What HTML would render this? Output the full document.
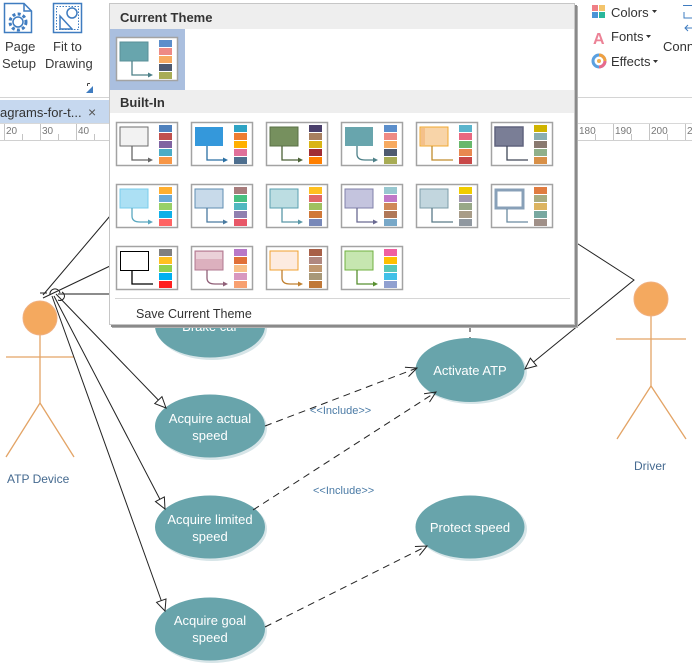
<!DOCTYPE html>
<html><head><meta charset="utf-8">
<style>
html,body{margin:0;padding:0;background:#fff;}
svg{display:block;}
text{font-family:"Liberation Sans",sans-serif;}
</style></head>
<body>
<svg width="692" height="666" viewBox="0 0 692 666" xmlns="http://www.w3.org/2000/svg">
<defs>
<marker id="hol" markerUnits="userSpaceOnUse" markerWidth="14" markerHeight="14" refX="12" refY="6" orient="auto">
<path d="M1,1 L12,6 L1,11 z" fill="#fff" stroke="#222" stroke-width="1"/>
</marker>
<marker id="opn" markerUnits="userSpaceOnUse" markerWidth="14" markerHeight="14" refX="12" refY="6" orient="auto">
<path d="M1,1 L12,6 L1,11" fill="none" stroke="#222" stroke-width="1"/>
</marker>
</defs>

<!-- ===== Toolbar left ===== -->
<rect x="0" y="0" width="692" height="97" fill="#fff"/>
<g fill="none" stroke="#3f7cc0" stroke-width="1.5">
<path d="M4.5 3.5H24L31.5 11V32.5H4.5Z"/><path d="M24 3.5V11H31.5"/>
<circle cx="18" cy="22" r="5"/><circle cx="18" cy="22" r="8" stroke-dasharray="3,2.3" stroke-width="3"/>
<rect x="53.5" y="3.5" width="28" height="29"/>
<rect x="56.5" y="6.5" width="22" height="23" stroke-dasharray="1.5,1.5" stroke-width="1"/>
<circle cx="72" cy="13" r="5"/><path d="M60 16V29H72Z"/>
</g>
<text x="5" y="51" font-size="13" fill="#3a3a3a">Page</text>
<text x="2" y="68" font-size="13" fill="#3a3a3a">Setup</text>
<text x="53" y="51" font-size="13" fill="#3a3a3a">Fit to</text>
<text x="45" y="68" font-size="13" fill="#3a3a3a">Drawing</text>
<path d="M87.5 83.5H90M87.5 83.5V86" stroke="#444" fill="none"/><path d="M93 86V93H86Z" fill="#3f7cc0"/>
<line x1="0" y1="97.5" x2="692" y2="97.5" stroke="#d4d4d4"/>

<!-- tab bar -->
<rect x="0" y="100" width="110" height="24" fill="#c6d8ef"/>
<text x="0" y="117" font-size="13" fill="#333">agrams-for-t...</text>
<text x="88" y="117" font-size="14" fill="#555">×</text>

<!-- ruler -->
<line x1="0" y1="123.5" x2="692" y2="123.5" stroke="#d8d8d8"/>
<line x1="0" y1="140.5" x2="692" y2="140.5" stroke="#d0d0d0"/>
<g stroke="#c4c4c4">
<line x1="4.5" y1="124" x2="4.5" y2="140"/><line x1="22.5" y1="134" x2="22.5" y2="140"/>
<line x1="40.5" y1="124" x2="40.5" y2="140"/><line x1="58.5" y1="134" x2="58.5" y2="140"/>
<line x1="76.5" y1="124" x2="76.5" y2="140"/><line x1="94.5" y1="134" x2="94.5" y2="140"/>
<line x1="577.5" y1="124" x2="577.5" y2="140"/><line x1="595.5" y1="134" x2="595.5" y2="140"/>
<line x1="613.5" y1="124" x2="613.5" y2="140"/><line x1="631.5" y1="134" x2="631.5" y2="140"/>
<line x1="649.5" y1="124" x2="649.5" y2="140"/><line x1="667.5" y1="134" x2="667.5" y2="140"/>
<line x1="685.5" y1="124" x2="685.5" y2="140"/>
</g>
<g font-size="10" fill="#777">
<text x="6" y="134">20</text><text x="42" y="134">30</text><text x="78" y="134">40</text>
<text x="579" y="134">180</text><text x="615" y="134">190</text><text x="651" y="134">200</text><text x="687" y="134">210</text>
</g>

<!-- ===== Toolbar right ===== -->
<rect x="592" y="5" width="6" height="6" fill="#ef7f86"/><rect x="599" y="5" width="6" height="6" fill="#f3c46c"/>
<rect x="592" y="12" width="6" height="6" fill="#4a94d6"/><rect x="599" y="12" width="6" height="6" fill="#2ab79b"/>
<text x="611" y="17" font-size="13" fill="#333">Colors</text>
<path d="M652 10H657L654.5 13Z" fill="#333"/>
<text x="593" y="44" font-size="16" font-weight="bold" fill="#ec8296">A</text>
<text x="611" y="41" font-size="13" fill="#333">Fonts</text>
<path d="M646 35H651L648.5 38Z" fill="#333"/>
<circle cx="599" cy="61" r="6" fill="none" stroke="#5aa0e0" stroke-width="3"/>
<path d="M599 55A6 6 0 0 1 605 61" fill="none" stroke="#f0a040" stroke-width="3"/>
<path d="M605 61A6 6 0 0 1 599 67" fill="none" stroke="#e86a8a" stroke-width="3"/>
<circle cx="599" cy="61" r="2" fill="#f0b050"/>
<text x="611" y="66" font-size="13" fill="#333">Effects</text>
<path d="M653 60H658L655.5 63Z" fill="#333"/>
<path d="M683 5.5H692M684 12V18H692" stroke="#3f7cc0" fill="none"/>
<path d="M685 28H692M688 25L685 28L688 31" stroke="#3f7cc0" fill="none"/>
<text x="663" y="51" font-size="13" fill="#333">Conn</text>

<!-- ===== Diagram ===== -->
<!-- actors -->
<g stroke="#e3a466" stroke-width="1.3" fill="none">
<line x1="40" y1="335" x2="40" y2="403"/><line x1="6" y1="357" x2="74" y2="357"/>
<path d="M6 457L40 403L74 457"/>
<line x1="651" y1="316" x2="651" y2="386"/><line x1="616" y1="339" x2="686" y2="339"/>
<path d="M617 439L651 386L686 439"/>
</g>
<circle cx="40" cy="318" r="17" fill="#f4a95f" stroke="#f0b080"/>
<circle cx="651" cy="299" r="17" fill="#f4a95f" stroke="#f0b080"/>
<text x="7" y="483" font-size="12" fill="#456a90">ATP Device</text>
<text x="634" y="470" font-size="12" fill="#456a90">Driver</text>

<!-- ellipses -->
<g fill="#d7e5e8">
<ellipse cx="212" cy="328" rx="55" ry="32"/>
<ellipse cx="212" cy="428" rx="55" ry="32"/>
<ellipse cx="212" cy="529" rx="55" ry="32"/>
<ellipse cx="212" cy="631" rx="55" ry="32"/>
<ellipse cx="472" cy="372" rx="55" ry="32"/>
<ellipse cx="472" cy="529" rx="55" ry="32"/>
</g>
<g fill="#68a4ab">
<ellipse cx="210" cy="326" rx="55" ry="31.5"/>
<ellipse cx="210" cy="426" rx="55" ry="31.5"/>
<ellipse cx="210" cy="527" rx="55" ry="31.5"/>
<ellipse cx="210" cy="629" rx="55" ry="31.5"/>
<ellipse cx="470" cy="370" rx="54.5" ry="32"/>
<ellipse cx="470" cy="527" rx="54.5" ry="31.5"/>
</g>
<g font-size="13" fill="#fff" text-anchor="middle">
<text x="210" y="331">Brake car</text>
<text x="210" y="423">Acquire actual</text><text x="210" y="440">speed</text>
<text x="210" y="524">Acquire limited</text><text x="210" y="541">speed</text>
<text x="210" y="625">Acquire goal</text><text x="210" y="642">speed</text>
<text x="470" y="375">Activate ATP</text>
<text x="470" y="532">Protect speed</text>
</g>

<!-- connectors -->
<g stroke="#222" stroke-width="1" fill="none">
<line x1="40" y1="293" x2="47" y2="293"/>
<line x1="43" y1="295" x2="110" y2="216"/>
<line x1="43" y1="298" x2="110" y2="266"/>
<line x1="58" y1="294" x2="110" y2="294" stroke="#666" stroke-width="1.6"/>
<path d="M50 295A5 5 0 0 1 60 293"/>
<path d="M58 300A4 4 0 0 0 62 292"/>
<line x1="56" y1="294" x2="166" y2="408" marker-end="url(#hol)"/>
<line x1="54" y1="296" x2="165" y2="509" marker-end="url(#hol)"/>
<line x1="52" y1="296" x2="165" y2="611" marker-end="url(#hol)"/>
<polyline points="575,242 634,280 525,369" marker-end="url(#hol)"/>
<g stroke-dasharray="7,5">
<line x1="470" y1="325" x2="470" y2="338"/>
<line x1="265" y1="426" x2="417" y2="368" marker-end="url(#opn)"/>
<line x1="253" y1="510" x2="436" y2="392" marker-end="url(#opn)"/>
<line x1="265" y1="627" x2="427" y2="546" marker-end="url(#opn)"/>
</g>
</g>
<g font-size="11" fill="#4a7aa5">
<text x="310" y="414">&lt;&lt;Include&gt;&gt;</text>
<text x="313" y="494">&lt;&lt;Include&gt;&gt;</text>
</g>

<!-- ===== Theme popup ===== -->
<rect x="112" y="6" width="466" height="322" fill="#b0b0b0"/>
<rect x="111" y="5" width="466" height="322" fill="#8a8a8a"/>
<rect x="109.5" y="3.5" width="465" height="321" fill="#fff" stroke="#c6c6c6"/>
<rect x="110" y="4" width="464" height="25" fill="#eeeeee"/>
<text x="120" y="22" font-size="13" font-weight="bold" fill="#333">Current Theme</text>
<rect x="110" y="29" width="75" height="61" fill="#aabfdf"/>
<rect x="110" y="90" width="464" height="23" fill="#eeeeee"/>
<text x="120" y="107" font-size="13" font-weight="bold" fill="#333">Built-In</text>
<line x1="115" y1="298.5" x2="570" y2="298.5" stroke="#d6d6d6"/>
<text x="136" y="318" font-size="12.5" fill="#333">Save Current Theme</text>

<!-- current -->
<g transform="translate(116,37)">
<rect x="0.5" y="0.5" width="61" height="43" fill="#fff" stroke="#a3a3a3" stroke-width="1.5"/>
<rect x="4" y="5" width="28" height="19" fill="#68a5ad" stroke="#5a9098"/>
<path d="M16 24V38H33" stroke="#4d8088" fill="none" stroke-width="1.3"/><path d="M32 35.5L37 38L32 40.5z" fill="#4d8088"/>
<rect x="43" y="3" width="13" height="7" fill="#5b8ecb"/><rect x="43" y="11" width="13" height="7" fill="#ee8a84"/><rect x="43" y="19" width="13" height="7" fill="#f7aa60"/><rect x="43" y="27" width="13" height="7" fill="#4e5a70"/><rect x="43" y="35" width="13" height="7" fill="#a8ac55"/>
</g>

<!-- row 1 -->
<g transform="translate(116,122)">
<rect x="0.5" y="0.5" width="61" height="43" fill="#fff" stroke="#a3a3a3" stroke-width="1.5"/>
<rect x="4" y="5" width="28" height="19" fill="#f2f2f2" stroke="#6e6e6e"/>
<path d="M16 24V38H33" stroke="#666" fill="none" stroke-width="1.3"/><path d="M32 35.5L37 38L32 40.5z" fill="#666"/>
<rect x="43" y="3" width="13" height="7" fill="#4f81bd"/><rect x="43" y="11" width="13" height="7" fill="#c0504d"/><rect x="43" y="19" width="13" height="7" fill="#8064a2"/><rect x="43" y="27" width="13" height="7" fill="#4bacc6"/><rect x="43" y="35" width="13" height="7" fill="#f79646"/>
</g>
<g transform="translate(191,122)">
<rect x="0.5" y="0.5" width="61" height="43" fill="#fff" stroke="#a3a3a3" stroke-width="1.5"/>
<rect x="4" y="5" width="28" height="19" fill="#3498db"/>
<path d="M16 24V38H33" stroke="#2a6fa3" fill="none" stroke-width="1.3"/><path d="M32 35.5L37 38L32 40.5z" fill="#2a6fa3"/>
<rect x="43" y="3" width="13" height="7" fill="#2ea3c4"/><rect x="43" y="11" width="13" height="7" fill="#ee7d31"/><rect x="43" y="19" width="13" height="7" fill="#ffb000"/><rect x="43" y="27" width="13" height="7" fill="#e0709a"/><rect x="43" y="35" width="13" height="7" fill="#4e6f8f"/>
</g>
<g transform="translate(266,122)">
<rect x="0.5" y="0.5" width="61" height="43" fill="#fff" stroke="#a3a3a3" stroke-width="1.5"/>
<rect x="4" y="5" width="28" height="19" fill="#76905e" stroke="#5a7045"/>
<path d="M16 24V38H33" stroke="#4c6237" fill="none" stroke-width="1.3"/><path d="M32 35.5L37 38L32 40.5z" fill="#4c6237"/>
<rect x="43" y="3" width="13" height="7" fill="#4a3f6b"/><rect x="43" y="11" width="13" height="7" fill="#a88060"/><rect x="43" y="19" width="13" height="7" fill="#d9b515"/><rect x="43" y="27" width="13" height="7" fill="#a02c35"/><rect x="43" y="35" width="13" height="7" fill="#ff7f00"/>
</g>
<g transform="translate(341,122)">
<rect x="0.5" y="0.5" width="61" height="43" fill="#fff" stroke="#a3a3a3" stroke-width="1.5"/>
<rect x="4" y="5" width="28" height="19" fill="#68a5ad"/>
<path d="M16 24V32Q16 38 24 38H33" stroke="#4d8088" fill="none" stroke-width="1.3"/><path d="M32 35.5L37 38L32 40.5z" fill="#4d8088"/>
<rect x="43" y="3" width="13" height="7" fill="#5b8ecb"/><rect x="43" y="11" width="13" height="7" fill="#ee8a84"/><rect x="43" y="19" width="13" height="7" fill="#f7aa60"/><rect x="43" y="27" width="13" height="7" fill="#4e5a70"/><rect x="43" y="35" width="13" height="7" fill="#a8ac55"/>
</g>
<g transform="translate(416,122)">
<rect x="0.5" y="0.5" width="61" height="43" fill="#fff" stroke="#a3a3a3" stroke-width="1.5"/>
<rect x="4" y="5" width="28" height="19" fill="#f8d4a8" stroke="#f0a830"/>
<rect x="5" y="6" width="4" height="17" fill="#f4c08a"/>
<path d="M16 24V38H37" stroke="#c08c2c" fill="none" stroke-width="1.3"/>
<rect x="43" y="3" width="13" height="7" fill="#5ab4cc"/><rect x="43" y="11" width="13" height="7" fill="#e86880"/><rect x="43" y="19" width="13" height="7" fill="#68b86c"/><rect x="43" y="27" width="13" height="7" fill="#e88850"/><rect x="43" y="35" width="13" height="7" fill="#c84848"/>
</g>
<g transform="translate(491,122)">
<rect x="0.5" y="0.5" width="61" height="43" fill="#fff" stroke="#a3a3a3" stroke-width="1.5"/>
<rect x="4" y="5" width="28" height="19" fill="#7a7e96" stroke="#60647e" stroke-width="1.5"/>
<path d="M16 24V38H37" stroke="#404858" fill="none" stroke-width="1.3"/>
<rect x="43" y="3" width="13" height="7" fill="#d0b400"/><rect x="43" y="11" width="13" height="7" fill="#8aaeb0"/><rect x="43" y="19" width="13" height="7" fill="#8a7a70"/><rect x="43" y="27" width="13" height="7" fill="#90b08a"/><rect x="43" y="35" width="13" height="7" fill="#d89048"/>
</g>

<!-- row 2 -->
<g transform="translate(116,184)">
<rect x="0.5" y="0.5" width="61" height="43" fill="#fff" stroke="#a3a3a3" stroke-width="1.5"/>
<rect x="4" y="5" width="28" height="19" fill="#ace0f4" stroke="#78cdeb"/>
<path d="M16 24V32Q16 38 24 38H33" stroke="#5aa8c0" fill="none" stroke-width="1.3"/><path d="M32 35.5L37 38L32 40.5z" fill="#5aa8c0"/>
<rect x="43" y="3" width="13" height="7" fill="#ffaf30"/><rect x="43" y="11" width="13" height="7" fill="#6aaad8"/><rect x="43" y="19" width="13" height="7" fill="#98d068"/><rect x="43" y="27" width="13" height="7" fill="#10b0e8"/><rect x="43" y="35" width="13" height="7" fill="#ff6464"/>
</g>
<g transform="translate(191,184)">
<rect x="0.5" y="0.5" width="61" height="43" fill="#fff" stroke="#a3a3a3" stroke-width="1.5"/>
<rect x="4" y="5" width="28" height="19" fill="#c8daea" stroke="#5f8db2"/>
<path d="M16 24V38H33" stroke="#4a7aa0" fill="none" stroke-width="1.3"/><path d="M32 35.5L37 38L32 40.5z" fill="#4a7aa0"/>
<rect x="43" y="3" width="13" height="7" fill="#a87c7c"/><rect x="43" y="11" width="13" height="7" fill="#48c080"/><rect x="43" y="19" width="13" height="7" fill="#50b8c0"/><rect x="43" y="27" width="13" height="7" fill="#9080b0"/><rect x="43" y="35" width="13" height="7" fill="#e85868"/>
</g>
<g transform="translate(266,184)">
<rect x="0.5" y="0.5" width="61" height="43" fill="#fff" stroke="#a3a3a3" stroke-width="1.5"/>
<rect x="4" y="5" width="28" height="19" fill="#bcdde2" stroke="#5aa0b0"/>
<path d="M16 24V38H33" stroke="#5a98a8" fill="none" stroke-width="1.3"/><path d="M32 35.5L37 38L32 40.5z" fill="#5a98a8"/>
<rect x="43" y="3" width="13" height="7" fill="#ffc020"/><rect x="43" y="11" width="13" height="7" fill="#e06868"/><rect x="43" y="19" width="13" height="7" fill="#a0c060"/><rect x="43" y="27" width="13" height="7" fill="#d07838"/><rect x="43" y="35" width="13" height="7" fill="#7888b8"/>
</g>
<g transform="translate(341,184)">
<rect x="0.5" y="0.5" width="61" height="43" fill="#fff" stroke="#a3a3a3" stroke-width="1.5"/>
<rect x="4" y="5" width="28" height="19" fill="#c4c4de" stroke="#8080aa"/>
<path d="M16 24V38H33" stroke="#6a6a92" fill="none" stroke-width="1.3"/><path d="M32 35.5L37 38L32 40.5z" fill="#6a6a92"/>
<rect x="43" y="3" width="13" height="7" fill="#98c8d0"/><rect x="43" y="11" width="13" height="7" fill="#c078c8"/><rect x="43" y="19" width="13" height="7" fill="#d08858"/><rect x="43" y="27" width="13" height="7" fill="#b07858"/><rect x="43" y="35" width="13" height="7" fill="#78a8c8"/>
</g>
<g transform="translate(416,184)">
<rect x="0.5" y="0.5" width="61" height="43" fill="#fff" stroke="#a3a3a3" stroke-width="1.5"/>
<rect x="4" y="5" width="28" height="19" fill="#c2d6de" stroke="#7c9ca8"/>
<path d="M16 24V38H37" stroke="#5a7a88" fill="none" stroke-width="1.3"/>
<rect x="43" y="3" width="13" height="7" fill="#f0cc00"/><rect x="43" y="11" width="13" height="7" fill="#a098b0"/><rect x="43" y="19" width="13" height="7" fill="#98a888"/><rect x="43" y="27" width="13" height="7" fill="#a89c88"/><rect x="43" y="35" width="13" height="7" fill="#9098a0"/>
</g>
<g transform="translate(491,184)">
<rect x="0.5" y="0.5" width="61" height="43" fill="#fff" stroke="#a3a3a3" stroke-width="1.5"/>
<rect x="5" y="6" width="27" height="18" fill="#fff" stroke="#88a0b8" stroke-width="3"/>
<path d="M16 25V38H37" stroke="#6a8aa0" fill="none" stroke-width="1.3"/>
<rect x="43" y="3" width="13" height="7" fill="#e07c40"/><rect x="43" y="11" width="13" height="7" fill="#a8ac80"/><rect x="43" y="19" width="13" height="7" fill="#dcb460"/><rect x="43" y="27" width="13" height="7" fill="#78a8a0"/><rect x="43" y="35" width="13" height="7" fill="#a09088"/>
</g>

<!-- row 3 -->
<g transform="translate(116,246)">
<rect x="0.5" y="0.5" width="61" height="43" fill="#fff" stroke="#a3a3a3" stroke-width="1.5"/>
<rect x="4.5" y="5.5" width="28" height="19" fill="#fff" stroke="#000"/>
<path d="M16 24V38H37" stroke="#000" fill="none" stroke-width="1.3"/>
<rect x="43" y="3" width="13" height="7" fill="#808080"/><rect x="43" y="11" width="13" height="7" fill="#ffc020"/><rect x="43" y="19" width="13" height="7" fill="#90d050"/><rect x="43" y="27" width="13" height="7" fill="#00b0f0"/><rect x="43" y="35" width="13" height="7" fill="#ff2020"/>
</g>
<g transform="translate(191,246)">
<rect x="0.5" y="0.5" width="61" height="43" fill="#fff" stroke="#a3a3a3" stroke-width="1.5"/>
<rect x="4" y="5" width="28" height="19" fill="#dcb0be" stroke="#b07890"/>
<rect x="5" y="6" width="26" height="7" fill="#ead0d8"/>
<path d="M16 24V32Q16 38 24 38H33" stroke="#906078" fill="none" stroke-width="1.3"/><path d="M32 35.5L37 38L32 40.5z" fill="#906078"/>
<rect x="43" y="3" width="13" height="7" fill="#b878c8"/><rect x="43" y="11" width="13" height="7" fill="#e07038"/><rect x="43" y="19" width="13" height="7" fill="#f8c088"/><rect x="43" y="27" width="13" height="7" fill="#d898c0"/><rect x="43" y="35" width="13" height="7" fill="#f8a070"/>
</g>
<g transform="translate(266,246)">
<rect x="0.5" y="0.5" width="61" height="43" fill="#fff" stroke="#a3a3a3" stroke-width="1.5"/>
<rect x="4" y="5" width="28" height="19" fill="#fdebe0" stroke="#f0a030"/>
<path d="M16 24V32Q16 38 24 38H33" stroke="#c08030" fill="none" stroke-width="1.3"/><path d="M32 35.5L37 38L32 40.5z" fill="#c08030"/>
<rect x="43" y="3" width="13" height="7" fill="#a86048"/><rect x="43" y="11" width="13" height="7" fill="#b08880"/><rect x="43" y="19" width="13" height="7" fill="#c09870"/><rect x="43" y="27" width="13" height="7" fill="#a89878"/><rect x="43" y="35" width="13" height="7" fill="#c07838"/>
</g>
<g transform="translate(341,246)">
<rect x="0.5" y="0.5" width="61" height="43" fill="#fff" stroke="#a3a3a3" stroke-width="1.5"/>
<rect x="4" y="5" width="28" height="19" fill="#c6e6b0" stroke="#70b040"/>
<path d="M16 24V38H33" stroke="#589030" fill="none" stroke-width="1.3"/><path d="M32 35.5L37 38L32 40.5z" fill="#589030"/>
<rect x="43" y="3" width="13" height="7" fill="#f060a0"/><rect x="43" y="11" width="13" height="7" fill="#ffc000"/><rect x="43" y="19" width="13" height="7" fill="#58c8b8"/><rect x="43" y="27" width="13" height="7" fill="#40c0e8"/><rect x="43" y="35" width="13" height="7" fill="#90a0d0"/>
</g>
</svg>
</body></html>
